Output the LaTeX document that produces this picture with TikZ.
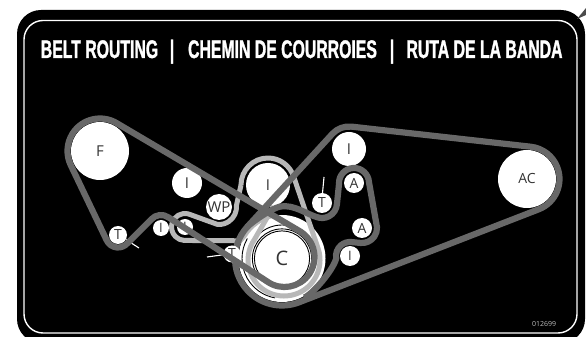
\documentclass[tikz,border=0pt]{standalone}
\usepackage{fontspec}
\setmainfont{Open Sans}
\newfontfamily\titlefont[FakeStretch=0.62,BoldFeatures={FakeStretch=0.62,FakeBold=1.2}]{Liberation Sans}
\usetikzlibrary{calc}
\definecolor{beltdark}{HTML}{686868}
\definecolor{beltlight}{HTML}{B8B8B8}
\definecolor{ink}{HTML}{333333}
\tikzset{
  pulley/.style={circle,fill=white,draw=none,inner sep=0pt,text=ink,font=\fontsize{#1}{#1}\selectfont},
  pulley/.default=12,
  darkbelt/.style={draw=beltdark,line width=6.2pt,line join=round},
  lightbelt/.style={draw=beltlight,line width=5pt,line join=round},
  tick/.style={draw=white,line width=1.1pt},
  ring/.style={draw=black,line width=0.9pt},
  headline/.style={text=white,inner sep=0pt,font=\titlefont\bfseries\fontsize{25.5}{26}\selectfont}
}
\begin{document}
\begin{tikzpicture}[x=1pt,y=1pt]
\useasboundingbox (0,0) rectangle (586,337);
\fill[white] (0,0) rectangle (586,337);
\fill[black,rounded corners=24pt] (17,-6) rectangle (585,327);
\fill[black!70] (577,318) -- (586,329) -- (586,322) -- cycle;
\draw[white,line width=1.4pt,rounded corners=19pt] (24,4) rectangle (577,316.5);
% title
\node[headline,anchor=base] (t1) at (99.5,279) {BELT ROUTING};
\node[headline,anchor=base] (b1) at (172,279) {|};
\node[headline,anchor=base] (t2) at (282.5,279) {CHEMIN DE COURROIES};
\node[headline,anchor=base] (b2) at (392,279) {|};
\node[headline,anchor=base] (t3) at (484.5,279) {RUTA DE LA BANDA};
\node[text=black!25,inner sep=0pt,font=\fontsize{7}{7}\selectfont] (code) at (544,13) {012699};
% pulleys
\coordinate (T2c) at (232,83);
\node[circle,fill=white,inner sep=0pt,minimum size=87pt] (C0) at (282,78.5) {};
\node[pulley=20,minimum size=52pt] (C) at (282,78.5) {C};
\node[pulley=15,minimum size=58pt] (F) at (100,186) {F};
\node[pulley=14,minimum size=58pt] (AC) at (527,158) {AC};
\node[pulley=15,minimum size=30pt] (I1) at (187,154) {I};
\node[pulley=15,minimum size=44pt] (I2) at (268,152) {I};
\node[pulley=15,minimum size=34pt] (I3) at (349,188) {I};
\node[pulley=13,minimum size=16pt] (I4) at (161,109) {I};
\node[pulley=13,minimum size=16pt] (I5) at (185,110) {I};
\node[pulley=13,minimum size=20pt] (I6) at (350,81) {I};
\node[pulley=15,minimum size=26pt] (WP) at (219,130) {WP};
\node[pulley=14,minimum size=18pt] (T1) at (118,102) {T};
\node[pulley=14,minimum size=20pt] (T3) at (322,134) {T};
\node[pulley=14,minimum size=20pt] (A1) at (354,154) {A};
\node[pulley=14,minimum size=20pt] (A2) at (362,109) {A};
% tensioner arms
\coordinate (a1) at (139,89);
\coordinate (a2) at (207,80);
\coordinate (a3) at (324,160);
\draw[tick] (T1.-30) -- (a1);
\draw[tick] (T3.87) -- (a3);
% rings on the crank
\draw[ring] (C) circle (27.6pt);
\draw[ring] (C) circle (29.6pt);
\draw[ring] ($(C)+(55:33.5)$) arc[start angle=55,end angle=215,radius=33.5pt];
\draw[ring] ($(C)+(150:40)$) arc[start angle=150,end angle=260,radius=40pt];
% light belts
\draw[lightbelt] ($(I2)+(180:27)$) arc[start angle=180,end angle=17,radius=27pt]
  -- ($(C)+(2,-1.5)+(17:36)$) arc[start angle=17,end angle=-215,radius=36pt]
  -- ($(I2)+(-75:22)$);
\draw[lightbelt] ($(I2)+(180:27)$) -- ($(WP)+(5:17.5)$)
  arc[start angle=5,end angle=-95,radius=17.5pt]
  -- ($(I5)+(75:13.5)$)
  arc[start angle=75,end angle=268,radius=13.5pt]
  -- ($(T2c)+(95:13.5)$)
  arc[start angle=95,end angle=60,radius=13.5pt]
  -- ($(C)+(149:44)$)
  arc[start angle=149,end angle=100,radius=44pt];
% dark belts
\draw[darkbelt] ($(I3)+(83.5:22.5)$) arc[start angle=83.5,end angle=138,radius=22.5pt]
  -- ($(C)+(138:47)$) arc[start angle=138,end angle=291,radius=47pt]
  -- ($(AC)+(291:32.5)$) arc[start angle=291,end angle=443.5,radius=32.5pt] -- cycle;
\draw[darkbelt] ($(C)+(300:45)$)
  .. controls +(25:10) and +(255:12) .. ($(I6)+(190:14)$)
  arc[start angle=190,end angle=85,radius=14pt]
  -- ($(A2)+(-95:15)$)
  arc[start angle=-95,end angle=3,radius=15pt]
  -- ($(A1)+(3:15)$)
  arc[start angle=3,end angle=183,radius=15pt]
  -- ($(T3)+(-3:15)$)
  arc[start angle=-3,end angle=-110,radius=15pt]
  .. controls +(165:10) and +(10:14) .. ($(C)+(92:52)$)
  .. controls +(190:8) and +(48:6) .. ($(C)+(138:47)$);
% this tensioner sits over the outer belt, under the long belt
\node[pulley=14,minimum size=17pt] (T2) at (T2c) {T};
\draw[tick] (T2.185) -- (a2);
\draw[darkbelt] ($(F)+(58:32.5)$) arc[start angle=58,end angle=205,radius=32.5pt]
  -- ($(T1)+(205:12.5)$) arc[start angle=205,end angle=318.5,radius=12.5pt]
  -- ($(I4)+(138.5:13)$) arc[start angle=138.5,end angle=55,radius=13pt]
  -- ($(C)+(2.5,1.5)+(235:30)$) arc[start angle=235,end angle=418,radius=30pt] -- cycle;
\end{tikzpicture}
\end{document}
